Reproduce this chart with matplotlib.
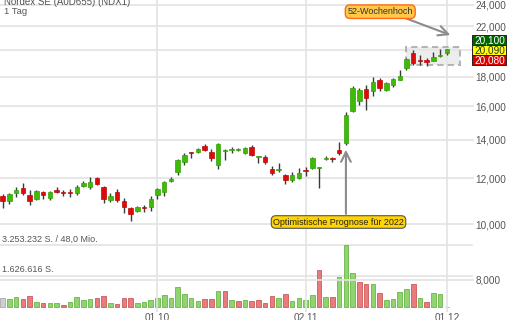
import numpy as np
import pandas as pd
import matplotlib
matplotlib.use('Agg')
import matplotlib.pyplot as plt
from matplotlib.patches import Rectangle
from matplotlib.ticker import FixedLocator, NullLocator, FuncFormatter

plt.rcParams['font.family'] = ['Liberation Sans', 'DejaVu Sans']

# Tageskerzen Nordex SE, 31.08.2021 - 01.12.2021
dates = pd.bdate_range('2021-08-31', '2021-12-01')

opens = [11190, 10950, 11320, 11550, 11220, 11040, 11380, 11110, 11460, 11340,
         11370, 11340, 11660, 11610, 12020, 11600, 11000, 11380, 10980, 10680,
         10530, 10700, 10690, 11230, 11370, 11890, 12330, 12800, 13300, 13330,
         13680, 13350, 12660, 13390, 13440, 13420, 13290, 13620, 13050, 13090,
         12440, 12420, 12140, 11920, 12040, 12360, 12530, 12500, 12990, 13020,
         13430, 13800, 15720, 16340, 17120, 17010, 17770, 17080, 17400, 17800,
         18620, 19770, 19170, 19250, 19200, 19520, 19820]
highs = [11280, 11340, 11580, 11780, 11460, 11460, 11430, 11430, 11580, 11460,
         11490, 11690, 11860, 12080, 12080, 11640, 11300, 11490, 11100, 10720,
         10750, 10790, 11190, 11560, 11880, 12060, 12970, 13270, 13340, 13570,
         13770, 13480, 13840, 13480, 13620, 13570, 13620, 13700, 13130, 13160,
         12610, 12750, 12230, 12290, 12510, 12540, 13050, 12580, 13130, 13090,
         13880, 15660, 17350, 17190, 17420, 17970, 17890, 17650, 17920, 18530,
         19370, 20030, 19640, 19380, 19900, 20080, 20100]
lows = [10650, 10840, 11160, 11210, 10790, 11010, 11070, 11010, 11340, 11200,
        11160, 11230, 11610, 11520, 11690, 10890, 10920, 10940, 10450, 10140,
        10490, 10490, 10530, 11040, 11190, 11810, 12180, 12660, 13010, 13270,
        13390, 12870, 12440, 12920, 13300, 13390, 13250, 13130, 12750, 12700,
        12170, 12290, 11740, 11840, 11990, 12120, 12480, 11530, 12920, 12830,
        13180, 13710, 15670, 16090, 15760, 16670, 17030, 17010, 17300, 17770,
        18500, 18880, 18880, 18820, 19170, 19460, 19630]
closes = [10950, 11280, 11460, 11300, 10980, 11430, 11220, 11380, 11380, 11300,
          11340, 11590, 11780, 11850, 11740, 11040, 11190, 11010, 10690, 10410,
          10690, 10680, 11040, 11490, 11810, 11960, 12920, 13180, 13280, 13480,
          13440, 13010, 13770, 13440, 13510, 13500, 13570, 13180, 13080, 12830,
          12240, 12460, 11940, 12160, 12240, 12340, 13020, 12520, 13040, 12990,
          13260, 15460, 17190, 17080, 16520, 17650, 17190, 17530, 17830, 18060,
          19300, 19000, 19150, 19080, 19460, 19550, 20090]

# Umsatz in Mio. Stück, Richtung gegenüber Vortag (0 = ohne Vortag)
volumes = [0.475, 0.44, 0.51, 0.40, 0.58, 0.28, 0.21, 0.19, 0.19, 0.12,
           0.25, 0.51, 0.35, 0.40, 0.46, 0.58, 0.23, 0.18, 0.49, 0.49,
           0.19, 0.25, 0.39, 0.46, 0.63, 0.46, 1.07, 0.67, 0.49, 0.33,
           0.44, 0.44, 0.86, 0.83, 0.39, 0.32, 0.39, 0.32, 0.39, 0.23,
           0.58, 0.49, 0.70, 0.30, 0.475, 0.37, 0.65, 1.92, 0.51, 0.53,
           1.60, 3.253232, 1.79, 1.32, 1.21, 1.20, 0.76, 0.37, 0.40, 0.79,
           0.95, 1.20, 0.475, 0.25, 0.74, 0.69, 0.0]
vol_dir = [0, 1, 1, -1, -1, 1, -1, 1, 1, -1,
           1, 1, 1, 1, -1, -1, 1, -1, -1, -1,
           1, 1, 1, 1, 1, 1, 1, 1, 1, 1,
           -1, -1, 1, -1, 1, -1, 1, -1, -1, -1,
           -1, 1, -1, 1, 1, 1, 1, -1, 1, -1,
           1, 1, 1, -1, -1, 1, -1, 1, 1, 1,
           1, -1, 1, -1, 1, 1, 0]

tick_dates = ['2021-10-01', '2021-11-02', '2021-12-01']
price_ticks = [8000, 10000, 12000, 14000, 16000, 18000, 20000, 22000, 24000]
vol_max = 3253232
quote_boxes = [20100, 20090, 20080]
wk52_start = 60
wk52_band = (18870, 20270)

# ---- layout in pixels ----
W, H = 510, 320
AX_R, AX_B = 463, 308
STEP, X0 = 6.73, 2.7

fig = plt.figure(figsize=(W / 100, H / 100), dpi=100)
rect = [0, (H - AX_B) / H, AX_R / W, AX_B / H]
axv = fig.add_axes(rect)
ax = fig.add_axes(rect)
ax.patch.set_visible(False)

x = np.arange(len(dates))
xlim = (-X0 / STEP, (AX_R - X0) / STEP)
for a in (ax, axv):
    a.set_xlim(*xlim)
    for s in a.spines.values():
        s.set_visible(False)

grid_c = '#e3e3e3'

# volume
vols = np.array(volumes) * 1e6
vfc = ['#8fd46e' if d > 0 else '#e87b7b' if d < 0 else '#cfcfcf' for d in vol_dir]
vec = ['#6ab64a' if d > 0 else '#cc5a5a' if d < 0 else '#aaaaaa' for d in vol_dir]
axv.set_ylim(-vol_max / 62, vol_max * 307 / 62)
axv.bar(x, vols, width=0.68, color=vfc, edgecolor=vec, lw=0.6, zorder=2)
axv.set_yticks([])
axv.set_xticks([])
for v in (vol_max, vol_max / 2):
    axv.axhline(v, xmax=1.02, color=grid_c, lw=1.2, zorder=0, clip_on=False)
axv.annotate('3.253.232 S. / 48,0 Mio.', (0.004, vol_max), xycoords=('axes fraction', 'data'),
             xytext=(0, 1.2), textcoords='offset points', fontsize=6.5, color='#555555', va='bottom')
axv.annotate('1.626.616 S.', (0.004, vol_max / 2), xycoords=('axes fraction', 'data'),
             xytext=(0, 1.2), textcoords='offset points', fontsize=6.5, color='#555555', va='bottom')

# price axis (log)
ax.set_yscale('log')
ax.set_ylim(8000 * np.exp((280 - AX_B) / 250.6), 8000 * np.exp(280 / 250.6))
ax.yaxis.set_major_locator(FixedLocator(price_ticks))
ax.yaxis.set_minor_locator(NullLocator())
ax.yaxis.set_major_formatter(FuncFormatter(lambda v, _: f'{v:,.0f}'))
ax.yaxis.tick_right()
ax.tick_params(axis='y', length=8, width=1.2, color=grid_c, labelsize=7.2,
               labelcolor='#555555', pad=1)
for p in price_ticks:
    ax.axhline(p, color=grid_c, lw=1.2, zorder=0)

tick_pos = [dates.get_loc(pd.Timestamp(d)) for d in tick_dates]
ax.set_xticks(tick_pos)
ax.set_xticklabels([pd.Timestamp(d).strftime('%d.%m') for d in tick_dates])
ax.tick_params(axis='x', length=3, width=1.2, color=grid_c, labelsize=7.2,
               labelcolor='#555555', pad=0.5)
for t in tick_pos:
    ax.axvline(t, color=grid_c, lw=1.2, zorder=0)

# 52-Wochenhoch band
ax.add_patch(Rectangle((wk52_start, wk52_band[0]), len(dates) + 1 - wk52_start,
                       wk52_band[1] - wk52_band[0], facecolor='#e6e6e6', alpha=0.7,
                       edgecolor='#9a9a9a', lw=1.5, ls=(0, (3, 2)), zorder=1))

# candles
o, h, l, c = map(np.array, (opens, highs, lows, closes))
up = c >= o
bottoms = np.minimum(o, c)
heights = np.maximum(np.abs(c - o), bottoms * 0.004)
ax.vlines(x, l, h, color='#3a3a3a', lw=1, zorder=2)
ax.bar(x, heights, bottom=bottoms, width=0.66,
       color=np.where(up, '#3dbb08', '#dd0a0a'),
       edgecolor=np.where(up, '#33a006', '#c00808'), lw=0.5, zorder=3)

# annotations
arrow = dict(arrowstyle='->,head_length=0.7,head_width=0.35', color='#8c8c8c', lw=1.5)
ax.annotate('', xy=(66.9, 21180), xytext=(58.6, 23030), arrowprops=arrow, zorder=4)
ax.text(56.1, 23340, '52-Wochenhoch', fontsize=6.5, color='#333333', ha='center', va='center',
        zorder=5, bbox=dict(boxstyle='round,pad=0.25,rounding_size=0.5', fc='#ffc846',
                            ec='#ff6a1a', lw=1))
ax.annotate('', xy=(51, 13600), xytext=(51, 10300), arrowprops=arrow, zorder=4)
ax.text(49.9, 10083, 'Optimistische Prognose für 2022', fontsize=6.5, color='#222222',
        ha='center', va='center', zorder=5,
        bbox=dict(boxstyle='round,pad=0.2,rounding_size=0.5', fc='#ffd400', ec='#555555', lw=0.8))

# quote boxes on the right
yc = ax.transData.transform((0, quote_boxes[1]))[1] - 1
box_styles = [('#006400', 'white', 10.2), ('#ffff00', '#333333', 0), ('#dd0000', 'white', -10.2)]
for val, (fc, tc, dy) in zip(quote_boxes, box_styles):
    cy = yc + dy
    fig.add_artist(Rectangle((472 / W, (cy - 5) / H), 34.5 / W, 10 / H, transform=fig.transFigure,
                             facecolor=fc, edgecolor='#222222', lw=0.7, zorder=10))
    fig.text(489.5 / W, cy / H, f'{val:,}', fontsize=7.2, color=tc, ha='center', va='center',
             zorder=11)

# title
fig.text(4 / W, 1 - 5 / H, 'Nordex SE (A0D655) (NDX1)', fontsize=7, color='#555555', va='baseline')
fig.text(4 / W, 1 - 14 / H, '1 Tag', fontsize=6.8, color='#555555', va='baseline')

fig.savefig('out.png', dpi=100)
